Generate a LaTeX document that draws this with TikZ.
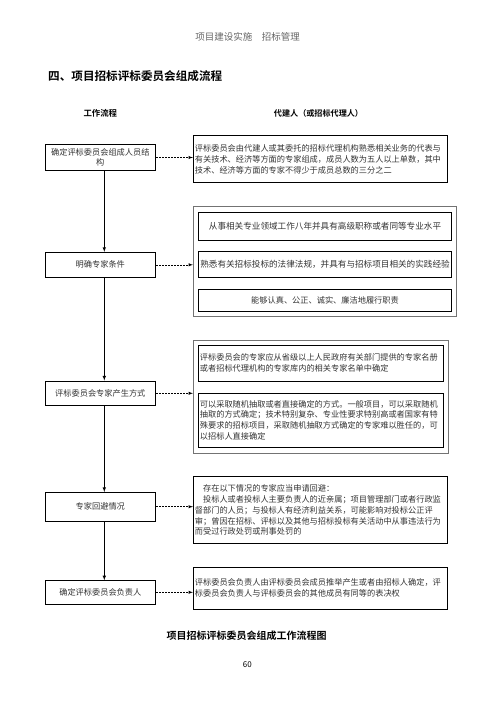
\documentclass[tikz,border=0pt]{standalone}
\usepackage{fontspec}
\setmainfont{Noto Sans CJK SC}[BoldFont={* Bold}]

\begin{document}
\begin{tikzpicture}[x=1pt,y=-1pt,
        flowbox/.style={draw,line width=0.8pt,minimum width=110.7pt,inner sep=1pt,align=center,text=black!80,font=\fontsize{8.2}{10.2}\selectfont},
        descbox/.style={draw,line width=0.8pt,inner xsep=1.6pt,inner ysep=0pt,align=left,text=black!80,font=\fontsize{8.2}{10.9}\selectfont},
        groupbox/.style={draw=black!55,line width=0.8pt},
        flowline/.style={line width=0.6pt,-latex},
        linkline/.style={line width=0.5pt,dashed,dash pattern=on 2pt off 1pt,-latex}]
        \useasboundingbox (0,0) rectangle (496,702);

        % Headings
        \node[text=black!60,font=\fontsize{9.5}{11}\selectfont] (header) at (247.5,37) {项目建设实施\hspace{1em}招标管理};
        \node[anchor=west,inner sep=0pt,font=\bfseries\fontsize{11.6}{13}\selectfont] (title) at (48,76) {四、项目招标评标委员会组成流程};
        \node[font=\bfseries\fontsize{8.4}{10}\selectfont] (colflow) at (100.3,113) {工作流程};
        \node[font=\bfseries\fontsize{8.1}{10}\selectfont] (colagent) at (318.5,113) {代建人（或招标代理人）};

        % Work flow
        \node[flowbox,minimum height=26.4pt] (flow1) at (100.3,157.5) {确定评标委员会组成人员结\\构};
        \node[flowbox,minimum height=25pt] (flow2) at (100.3,264.8) {明确专家条件};
        \node[flowbox,minimum height=24.7pt] (flow3) at (100.3,393.3) {评标委员会专家产生方式};
        \node[flowbox,minimum height=28.7pt] (flow4) at (100.3,506.7) {专家回避情况};
        \node[flowbox,minimum height=23.3pt] (flow5) at (100.3,592.3) {确定评标委员会负责人};

        \foreach \a/\b in {flow1/flow2, flow2/flow3, flow3/flow4, flow4/flow5}
            \draw[flowline] ([xshift=4pt]\a.south) -- ([xshift=4pt]\b.north);

        % Agent side
        \node[descbox,text width=251.2pt,minimum height=47pt] (desc1) at (320.5,159.2) {评标委员会由代建人或其委托的招标代理机构熟悉相关业务的代表与\\有关技术、经济等方面的专家组成，成员人数为五人以上单数，其中\\技术、经济等方面的专家不得少于成员总数的三分之二};

        \node[groupbox,minimum width=263pt,minimum height=109.3pt] (group2) at (324.8,261.35) {};
        \node[descbox,align=center,text width=250.2pt,minimum height=27.7pt,font=\fontsize{8.6}{10.9}\selectfont] (item1) at (325,226.2) {从事相关专业领域工作八年并具有高级职称或者同等专业水平};
        \node[descbox,align=center,inner xsep=0pt,text width=253.4pt,minimum height=26.3pt,font=\fontsize{8.6}{10.9}\selectfont] (item2) at (325,264.2) {熟悉有关招标投标的法律法规，并具有与招标项目相关的实践经验};
        \node[descbox,align=center,text width=250.2pt,minimum height=22.4pt] (item3) at (325,300.5) {能够认真、公正、诚实、廉洁地履行职责};

        \node[groupbox,minimum width=255.4pt,minimum height=112.6pt] (group3) at (321,397) {};
        \node[descbox,text width=241.8pt,minimum height=36.7pt] (item4) at (320.8,363.3) {评标委员会的专家应从省级以上人民政府有关部门提供的专家名册\\或者招标代理机构的专家库内的相关专家名单中确定};
        \node[descbox,text width=241.8pt,minimum height=54pt] (item5) at (320.8,420.3) {可以采取随机抽取或者直接确定的方式。一般项目，可以采取随机\\抽取的方式确定；技术特别复杂、专业性要求特别高或者国家有特\\殊要求的招标项目，采取随机抽取方式确定的专家难以胜任的，可\\以招标人直接确定};

        \node[descbox,text width=251.2pt,minimum height=66.6pt] (desc4) at (320.5,510) {\hspace*{1em}存在以下情况的专家应当申请回避：\\\hspace*{1em}投标人或者投标人主要负责人的近亲属；项目管理部门或者行政监\\督部门的人员；与投标人有经济利益关系，可能影响对投标公正评\\审；曾因在招标、评标以及其他与招标投标有关活动中从事违法行为\\而受过行政处罚或刑事处罚的};

        \node[descbox,text width=251.2pt,minimum height=42pt] (desc5) at (320.5,588.3) {评标委员会负责人由评标委员会成员推举产生或者由招标人确定，评\\标委员会负责人与评标委员会的其他成员有同等的表决权};

        % Links
        \draw[linkline] (flow1.east) -- (flow1.east -| desc1.west);
        \draw[linkline] (flow2.east) -- (flow2.east -| group2.west);
        \draw[linkline] (flow3.east) -- (flow3.east -| group3.west);
        \draw[linkline] (flow4.east) -- (flow4.east -| desc4.west);
        \draw[linkline] (flow5.east) -- (flow5.east -| desc5.west);

        % Caption
        \node[font=\bfseries\fontsize{10}{12}\selectfont] (caption) at (246.7,636) {项目招标评标委员会组成工作流程图};
        \node[font=\fontsize{8}{10}\selectfont] (pagenum) at (247.3,664.3) {60};
    \end{tikzpicture}
\end{document}
